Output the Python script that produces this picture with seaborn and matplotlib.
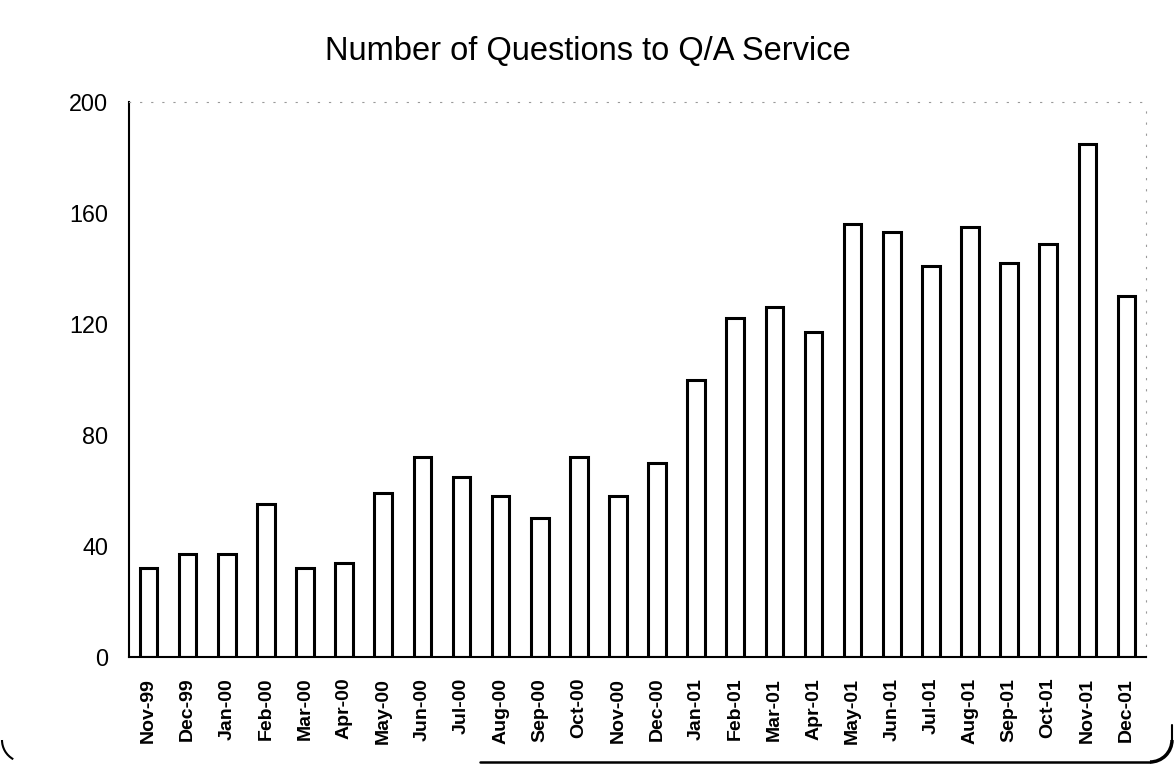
import matplotlib
matplotlib.use("Agg")
import matplotlib.pyplot as plt
from matplotlib.lines import Line2D
from matplotlib.patches import Arc
import seaborn as sns
import pandas as pd

months = ["Nov-99", "Dec-99", "Jan-00", "Feb-00", "Mar-00", "Apr-00", "May-00",
          "Jun-00", "Jul-00", "Aug-00", "Sep-00", "Oct-00", "Nov-00", "Dec-00",
          "Jan-01", "Feb-01", "Mar-01", "Apr-01", "May-01", "Jun-01", "Jul-01",
          "Aug-01", "Sep-01", "Oct-01", "Nov-01", "Dec-01"]
questions = [32, 37, 37, 55, 32, 34, 59, 72, 65, 58, 50, 72, 58, 70,
             100, 122, 126, 117, 156, 153, 141, 155, 142, 149, 185, 130]
y_ticks = [0, 40, 80, 120, 160, 200]

sns.set_theme(style="white")
plt.rcParams["font.family"] = ["Liberation Sans", "DejaVu Sans"]
plt.rcParams["text.color"] = "black"
plt.rcParams["xtick.color"] = "black"
plt.rcParams["ytick.color"] = "black"
plt.rcParams["axes.labelcolor"] = "black"

W, H = 1176, 765
fig = plt.figure(figsize=(W / 100, H / 100), dpi=100)
ax = fig.add_axes([129 / W, 1 - 657 / H, (1146 - 129) / W, (657 - 102) / H])

df = pd.DataFrame({"month": months, "questions": questions})
sns.barplot(data=df, x="month", y="questions", order=months, ax=ax,
            color="white", edgecolor="black", linewidth=2.2, width=0.45,
            saturation=1)

ax.set_xlim(-0.5, len(months) - 0.5)
ax.set_ylim(0, 200)
ax.set_yticks(y_ticks)
ax.set_yticklabels([str(v) for v in y_ticks], fontsize=16.8, color="black")
ax.set_xticks(range(len(months)))
ax.set_xticklabels(months, rotation=90, fontsize=14, fontweight="bold",
                   color="black")
ax.tick_params(axis="both", length=0)
ax.tick_params(axis="y", pad=15)
ax.tick_params(axis="x", pad=15)
ax.set_xlabel("")
ax.set_ylabel("")

for side in ("left", "bottom"):
    ax.spines[side].set_color("black")
    ax.spines[side].set_linewidth(1.5)
for side in ("top", "right"):
    ax.spines[side].set_color("#999999")
    ax.spines[side].set_linewidth(0.8)
    ax.spines[side].set_linestyle((0, (1, 9)))

fig.text(0.5, 1 - 60 / H, "Number of Questions to Q/A Service",
         ha="center", va="baseline", fontsize=23.5, color="black")

# chart-area frame: rounded bottom corners and the lower border
def fx(px):
    return px / W

def fy(py):
    return 1 - py / H

fig.add_artist(Line2D([fx(480), fx(1150)], [fy(762), fy(762)],
                      transform=fig.transFigure, color="black", lw=1.8))
fig.add_artist(Arc((fx(1150), fy(740)), 2 * 22 / W, 2 * 22 / H,
                   theta1=270, theta2=360, transform=fig.transFigure,
                   color="black", lw=2.5))
fig.add_artist(Line2D([fx(1172), fx(1172)], [fy(740), fy(725)],
                      transform=fig.transFigure, color="black", lw=1.5))
fig.add_artist(Arc((fx(24), fy(740)), 2 * 22 / W, 2 * 22 / H,
                   theta1=180, theta2=250, transform=fig.transFigure,
                   color="black", lw=1.5))

fig.savefig("out.png", dpi=100, facecolor="white")
